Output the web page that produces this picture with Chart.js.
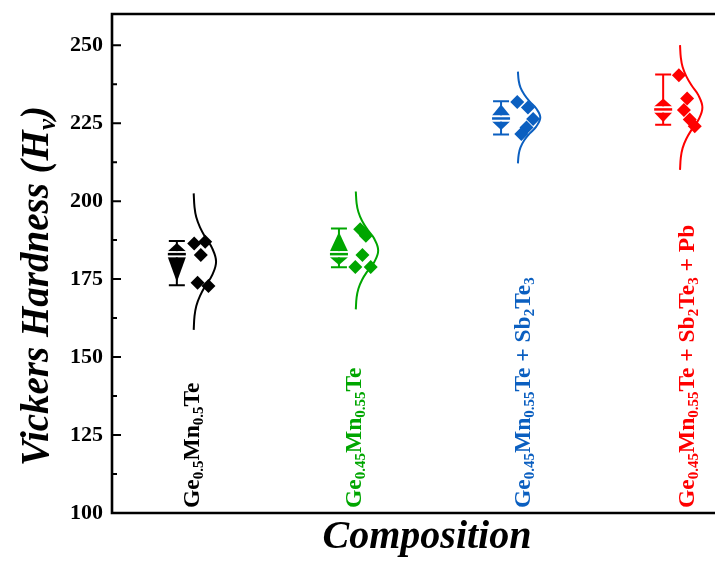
<!DOCTYPE html>
<html><head><meta charset="utf-8">
<script src="https://cdn.jsdelivr.net/npm/chart.js@4.4.0/dist/chart.umd.min.js"></script>
<style>
html,body{margin:0;padding:0;background:#fff;overflow:hidden;width:715px;height:571px}
#wrap{position:relative;width:735px;height:571px}
canvas{display:block}
</style></head>
<body><div id="wrap"><canvas id="c" width="735" height="571"></canvas></div>
<script>
// ---- data ----
const categories = [
  "Ge_{0.5}Mn_{0.5}Te",
  "Ge_{0.45}Mn_{0.55}Te",
  "Ge_{0.45}Mn_{0.55}Te + Sb_{2}Te_{3}",
  "Ge_{0.45}Mn_{0.55}Te + Sb_{2}Te_{3} + Pb"
];
const seriesColors = ["#000000", "#00a600", "#0b5fc0", "#ff0000"];

const hardnessBlack = [186.4, 187.0, 182.7, 173.8, 172.8];
const hardnessGreen = [191.0, 188.9, 182.7, 178.9, 178.9];
const hardnessBlue  = [231.8, 230.0, 226.3, 223.6, 221.5];
const hardnessRed   = [240.4, 232.9, 229.2, 226.2, 224.0];

const jitterBlack = [0.107, 0.175, 0.148, 0.128, 0.195];
const jitterGreen = [0.131, 0.166, 0.145, 0.101, 0.196];
const jitterBlue  = [0.100, 0.166, 0.198, 0.157, 0.125];
const jitterRed   = [0.097, 0.148, 0.128, 0.164, 0.195];

const boxMax    = [187.2, 191.2, 232.0, 240.6];
const boxQ3     = [186.6, 190.1, 231.0, 232.9];
const boxMedian = [183.0, 183.0, 226.5, 229.4];
const boxQ1     = [174.1, 179.5, 222.8, 225.4];
const boxMin    = [173.0, 178.8, 221.4, 224.5];

const curveBlack = [158.7,163.1,166.4,169.6,172.9,176.2,180.6,185.0,188.3,191.6,194.8,198.1,202.5];
const curveGreen = [165.3,169.1,171.9,174.8,177.6,180.4,184.2,188.0,190.8,193.6,196.5,199.3,203.1];
const curveBlue  = [212.1,215.0,217.2,219.5,221.7,223.9,226.8,229.7,231.9,234.2,236.4,238.6,241.5];
const curveRed   = [210.0,214.0,217.0,220.0,223.0,226.0,230.0,234.0,237.0,240.0,243.0,246.0,250.0];
const curveWidth = [0.000,0.005,0.016,0.039,0.073,0.113,0.138,0.113,0.073,0.039,0.016,0.005,0.000];

const yTicks = [100, 125, 150, 175, 200, 225, 250];
const yMinorTicks = [112.5, 137.5, 162.5, 187.5, 212.5, 237.5];
const yTitle = "Vickers Hardness (H_{v})";
const xTitle = "Composition";

// ---- layout constants ----
const CURVE_BASE = 0.104;
const LABEL_SHIFT = [0.135, 0.135, 0.18, 0.19];
const FONT = "'Liberation Serif', 'Times New Roman', serif";

const groups = [
  {pts: hardnessBlack, jit: jitterBlack, curve: curveBlack},
  {pts: hardnessGreen, jit: jitterGreen, curve: curveGreen},
  {pts: hardnessBlue,  jit: jitterBlue,  curve: curveBlue},
  {pts: hardnessRed,   jit: jitterRed,   curve: curveRed}
];

const datasets = [];
groups.forEach((g, i) => {
  datasets.push({
    type: 'scatter',
    data: g.curve.map((v, j) => ({x: i + 1 + CURVE_BASE + curveWidth[j], y: v})),
    showLine: true, borderColor: seriesColors[i], borderWidth: 2,
    pointRadius: 0, tension: 0.4, fill: false
  });
  datasets.push({
    type: 'scatter',
    data: g.pts.map((v, j) => ({x: i + 1 + g.jit[j], y: v})),
    pointStyle: 'rectRot', pointRadius: 7, pointHoverRadius: 7,
    backgroundColor: seriesColors[i], borderWidth: 0
  });
});

function parseRich(str) {
  const out = [];
  const re = /_\{([^}]*)\}/g;
  let last = 0, m;
  while ((m = re.exec(str)) !== null) {
    if (m.index > last) out.push({t: str.slice(last, m.index), sub: false});
    out.push({t: m[1], sub: true});
    last = re.lastIndex;
  }
  if (last < str.length) out.push({t: str.slice(last), sub: false});
  return out;
}
function richWidth(ctx, segs, mainFont, subFont) {
  let w = 0;
  segs.forEach(s => { ctx.font = s.sub ? subFont : mainFont; w += ctx.measureText(s.t).width; });
  return w;
}
function drawRich(ctx, segs, x0, mainFont, subFont, subShift) {
  let x = x0;
  segs.forEach(s => {
    ctx.font = s.sub ? subFont : mainFont;
    ctx.fillText(s.t, x, s.sub ? subShift : 0);
    x += ctx.measureText(s.t).width;
  });
}

const decor = {
  id: 'decor',
  afterDatasetsDraw(chart) {
    const ctx = chart.ctx, xs = chart.scales.x, ys = chart.scales.y;
    const W = 9, CAP = 8;
    for (let i = 0; i < 4; i++) {
      const cx = xs.getPixelForValue(i + 1);
      const col = seriesColors[i];
      const yMax = ys.getPixelForValue(boxMax[i]), yMin = ys.getPixelForValue(boxMin[i]);
      const yQ3 = ys.getPixelForValue(boxQ3[i]), yQ1 = ys.getPixelForValue(boxQ1[i]);
      const yMed = ys.getPixelForValue(boxMedian[i]);
      ctx.save();
      ctx.strokeStyle = col; ctx.fillStyle = col; ctx.lineWidth = 2;
      ctx.beginPath();
      ctx.moveTo(cx, yMax); ctx.lineTo(cx, yMin);
      ctx.moveTo(cx - CAP, yMax); ctx.lineTo(cx + CAP, yMax);
      ctx.moveTo(cx - CAP, yMin); ctx.lineTo(cx + CAP, yMin);
      ctx.stroke();
      ctx.beginPath();
      ctx.moveTo(cx - W, yMed - 3); ctx.lineTo(cx, yQ3); ctx.lineTo(cx + W, yMed - 3); ctx.closePath(); ctx.fill();
      ctx.beginPath();
      ctx.moveTo(cx - W, yMed + 3); ctx.lineTo(cx, yQ1); ctx.lineTo(cx + W, yMed + 3); ctx.closePath(); ctx.fill();
      ctx.fillStyle = '#fff';
      ctx.fillRect(cx - W, yMed - 3, 2 * W, 6);
      ctx.fillStyle = col;
      ctx.fillRect(cx - W, yMed - 1.25, 2 * W, 2.5);
      ctx.restore();
    }
  },
  afterDraw(chart) {
    const ctx = chart.ctx, a = chart.chartArea, xs = chart.scales.x, ys = chart.scales.y;
    ctx.save();
    ctx.strokeStyle = '#000'; ctx.lineWidth = 2.6; ctx.lineCap = 'square';
    ctx.beginPath();
    ctx.moveTo(a.right + 5, a.top); ctx.lineTo(a.left, a.top); ctx.lineTo(a.left, a.bottom); ctx.lineTo(a.right + 5, a.bottom);
    ctx.stroke();
    ctx.lineWidth = 2; ctx.lineCap = 'butt';
    ctx.beginPath();
    yTicks.forEach(v => { const y = ys.getPixelForValue(v); ctx.moveTo(a.left, y); ctx.lineTo(a.left + 9, y); });
    yMinorTicks.forEach(v => { const y = ys.getPixelForValue(v); ctx.moveTo(a.left, y); ctx.lineTo(a.left + 5, y); });
    ctx.stroke();
    ctx.textBaseline = 'alphabetic'; ctx.textAlign = 'left';
    categories.forEach((c, i) => {
      const x = xs.getPixelForValue(i + 1 + LABEL_SHIFT[i]);
      ctx.save();
      ctx.translate(x, a.bottom - 5);
      ctx.rotate(-Math.PI / 2);
      ctx.fillStyle = seriesColors[i];
      drawRich(ctx, parseRich(c), 0, "bold 23.5px " + FONT, "bold 15px " + FONT, 4);
      ctx.restore();
    });
    const segs = parseRich(yTitle);
    const mf = "italic bold 39px " + FONT, sf = "italic bold 25px " + FONT;
    const tw = richWidth(ctx, segs, mf, sf);
    ctx.save();
    ctx.translate(48, 286);
    ctx.rotate(-Math.PI / 2);
    ctx.fillStyle = '#000';
    drawRich(ctx, segs, -tw / 2, mf, sf, 7);
    ctx.restore();
    ctx.font = "italic bold 40px " + FONT;
    ctx.textAlign = 'center';
    ctx.fillStyle = '#000';
    ctx.fillText(xTitle, 427, 548);
    ctx.restore();
  }
};

new Chart(document.getElementById('c'), {
  type: 'scatter',
  data: {datasets},
  options: {
    responsive: false, animation: false, devicePixelRatio: 1,
    layout: {padding: {top: 14, right: 4, bottom: 58, left: 0}},
    plugins: {legend: {display: false}, tooltip: {enabled: false}},
    scales: {
      x: {type: 'linear', min: 0.6, max: 4.4, display: false},
      y: {
        type: 'linear', min: 100, max: 260,
        afterFit(s) { s.width = 112; s.paddingTop = 0; s.paddingBottom = 0; },
        afterBuildTicks(s) { s.ticks = yTicks.map(v => ({value: v})); },
        grid: {display: false, drawTicks: false},
        border: {display: false},
        ticks: {padding: 9, color: '#000', font: {family: FONT, size: 22, weight: 'bold'}}
      }
    }
  },
  plugins: [decor]
});
</script>
</body></html>
